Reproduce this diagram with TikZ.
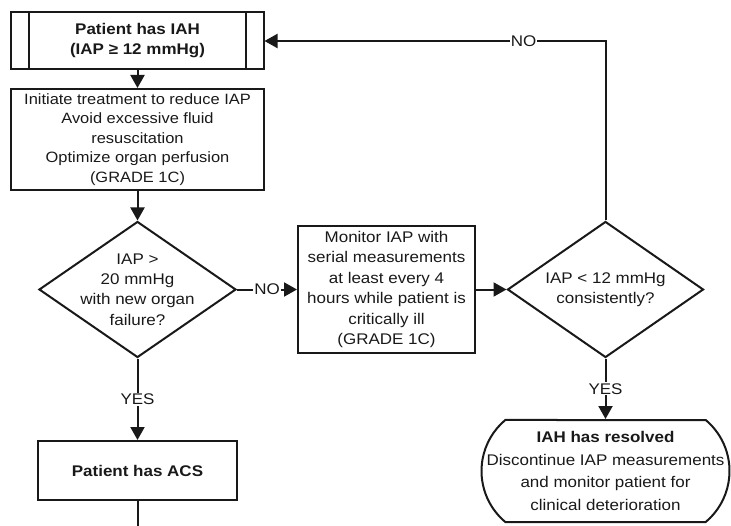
\documentclass[tikz,border=0pt]{standalone}
\usepackage{fontspec}
\setmainfont{Liberation Sans}[FakeStretch=1.1]
\usepackage{tikz}
\usetikzlibrary{shapes.geometric, shapes.misc, arrows.meta, positioning}
\definecolor{flowblack}{RGB}{25,25,25}

\begin{document}
\begin{tikzpicture}[x=1bp, y=-1bp,
  every node/.style={font=\fontsize{15.5}{20.5}\selectfont, text=flowblack},
  box/.style={draw=flowblack, line width=2bp, rectangle, align=center, inner sep=1bp},
  choice/.style={draw=flowblack, line width=2bp, diamond, minimum width=197bp, minimum height=136bp, inner sep=0pt},
  terminal/.style={draw=flowblack, line width=2bp, rounded rectangle, rounded rectangle arc length=100, minimum width=248bp, minimum height=102bp, inner sep=0pt},
  link/.style={draw=flowblack, line width=2bp},
  flow/.style={link, -{Triangle[length=13bp, width=14bp]}},
  answer/.style={fill=white, inner sep=1bp}]
  \useasboundingbox (0,0) rectangle (731,526);

  % left column
  \node[box, minimum width=252bp, minimum height=57bp, font=\fontsize{15.5}{20}\selectfont\bfseries] (iah) at (137.5,41) {Patient has IAH\\(IAP ≥ 12 mmHg)};
  \draw[link] ([xshift=19bp]iah.north west) -- ([xshift=19bp]iah.south west);
  \draw[link] ([xshift=-19bp]iah.north east) -- ([xshift=-19bp]iah.south east);
  \node[box, minimum width=253bp, minimum height=101bp, font=\fontsize{15}{19.5}\selectfont] (treat) at (137.5,139.5) {Initiate treatment to reduce IAP\\Avoid excessive fluid\\resuscitation\\Optimize organ perfusion\\(GRADE 1C)};
  \node[choice, label={[align=center]center:{IAP >\\20 mmHg\\with new organ\\failure?}}] (organ) at (137.5,289.5) {};
  \node[box, minimum width=199bp, minimum height=59bp, font=\fontsize{15.5}{20}\selectfont\bfseries] (acs) at (137.5,470.5) {Patient has ACS};
  \coordinate (exit) at (137.5,526);

  % right part
  \node[box, minimum width=177bp, minimum height=127bp] (monitor) at (386.5,289.5) {Monitor IAP with\\serial measurements\\at least every 4\\hours while patient is\\critically ill\\(GRADE 1C)};
  \node[choice, minimum width=196bp, label={[align=center]center:{IAP < 12 mmHg\\consistently?}}] (below) at (605.5,289.5) {};
  \node[terminal, label={[align=center, font=\fontsize{15.5}{22.5}\selectfont]center:{\textbf{IAH has resolved}\\Discontinue IAP measurements\\and monitor patient for\\clinical deterioration}}] (resolved) at (605.5,471) {};

  \draw[flow] (iah.south) -- (treat.north);
  \draw[flow] (treat.south) -- (organ.north);
  \draw[flow] (organ.east) -- node[answer] {NO} (monitor.west);
  \draw[flow] (monitor.east) -- (below.west);
  \draw[flow] (below.north) |- node[answer, pos=0.62] {NO} (iah.east);
  \draw[flow] (below.south) -- node[answer] {YES} (resolved.north);
  \draw[flow] (organ.south) -- node[answer] {YES} (acs.north);
  \draw[link] (acs.south) -- (exit);
\end{tikzpicture}
\end{document}
